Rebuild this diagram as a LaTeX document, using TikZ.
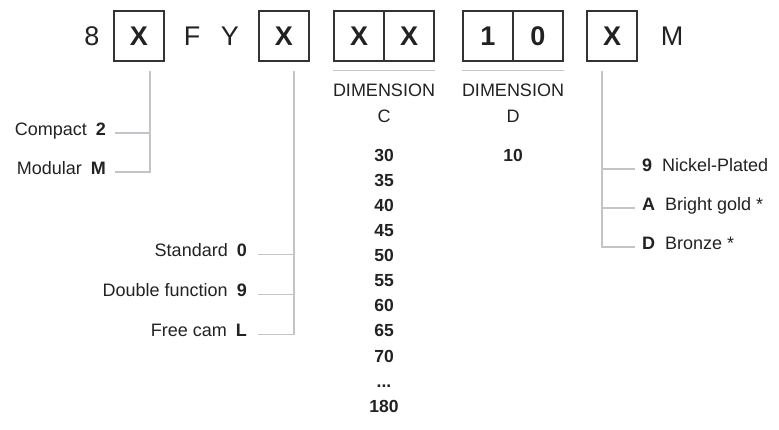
\documentclass[tikz,border=0pt]{standalone}
\usepackage{fontspec}
\setmainfont{Liberation Sans}
\usetikzlibrary{positioning}

\definecolor{ink}{HTML}{222222}
\definecolor{frame}{HTML}{333333}
\definecolor{lead}{HTML}{C4C4C8}

\begin{document}
\begin{tikzpicture}[x=1pt, y=-1pt, every node/.style={text=ink, inner sep=0pt},
	chr/.style={font=\fontsize{27}{27}\selectfont},
	box/.style={draw=frame, line width=1.1pt, minimum width=50pt, minimum height=50pt, font=\fontsize{27}{27}\selectfont\bfseries},
	lbl/.style={font=\fontsize{18}{26.5}\selectfont},
	num/.style={font=\fontsize{17.5}{17.5}\selectfont\bfseries},
	tie/.style={draw=lead, line width=1.3pt}]
	\useasboundingbox (0,0) rectangle (779,430);
	% type code
	\node[chr] (n8) at (92,36) {8};
	\node[box] (x1) at (139,36) {X};
	\node[chr] (nf) at (192,36) {F};
	\node[chr] (ny) at (230,36) {Y};
	\node[box] (x2) at (284,36) {X};
	\node[box] (c1) at (359,36) {X};
	\node[box] (c2) at (409,36) {X};
	\node[box] (d1) at (488,36) {1};
	\node[box] (d2) at (538,36) {0};
	\node[box] (x5) at (612,36) {X};
	\node[chr] (nm) at (672,36) {M};
	% dimensions
	\draw[tie] ([yshift=-9pt]c1.south west) -- ([yshift=-9pt]c2.south east);
	\draw[tie] ([yshift=-9pt]d1.south west) -- ([yshift=-9pt]d2.south east);
	\node[lbl, align=center, anchor=base] (dimc) at (384,123) {DIMENSION\\C};
	\node[lbl, align=center, anchor=base] (dimd) at (513,123) {DIMENSION\\D};
	\foreach \v [count=\i] in {30,35,40,45,50,55,60,65,70}
		\node[num, anchor=base] (c\v) at (384,162+25*\i-25) {\v};
	\node[num, anchor=base] (cdots) at (384,387) {...};
	\node[num, anchor=base] (c180) at (384,412) {180};
	\node[num, anchor=base] (d10) at (513,162) {10};
	% body
	\node[lbl, anchor=base east] (cmp) at (106,135.5) {Compact\hspace{9pt}\textbf{2}};
	\node[lbl, anchor=base east] (mod) at (106,174.5) {Modular\hspace{9pt}\textbf{M}};
	\coordinate (t1) at ([xshift=11pt,yshift=-9pt]x1.south);
	\draw[tie] ([xshift=9pt,yshift=2.5pt]cmp.base east) coordinate (k1) -- (k1 -| t1);
	\draw[tie] (t1) |- ([xshift=9pt,yshift=2.5pt]mod.base east);
	% function
	\node[lbl, anchor=base east] (std) at (247,257) {Standard\hspace{9pt}\textbf{0}};
	\node[lbl, anchor=base east] (dbl) at (247,297) {Double function\hspace{9pt}\textbf{9}};
	\node[lbl, anchor=base east] (cam) at (247,337) {Free cam\hspace{9pt}\textbf{L}};
	\coordinate (t2) at ([xshift=10pt,yshift=-9pt]x2.south);
	\draw[tie] ([xshift=11pt,yshift=2.5pt]std.base east) coordinate (k2) -- (k2 -| t2);
	\draw[tie] ([xshift=11pt,yshift=2.5pt]dbl.base east) coordinate (k3) -- (k3 -| t2);
	\draw[tie] (t2) |- ([xshift=11pt,yshift=2.5pt]cam.base east);
	% finish
	\node[lbl, anchor=base west] (nic) at (642,171.5) {\textbf{9}\hspace{10pt}Nickel-Plated};
	\node[lbl, anchor=base west] (gld) at (642,210.5) {\textbf{A}\hspace{10pt}Bright gold *};
	\node[lbl, anchor=base west] (brz) at (642,249.5) {\textbf{D}\hspace{10pt}Bronze *};
	\coordinate (t5) at ([xshift=-10pt,yshift=-9pt]x5.south);
	\draw[tie] ([xshift=-7pt,yshift=2.5pt]nic.base west) coordinate (k4) -- (k4 -| t5);
	\draw[tie] ([xshift=-7pt,yshift=2.5pt]gld.base west) coordinate (k5) -- (k5 -| t5);
	\draw[tie] (t5) |- ([xshift=-7pt,yshift=2.5pt]brz.base west);
\end{tikzpicture}
\end{document}
